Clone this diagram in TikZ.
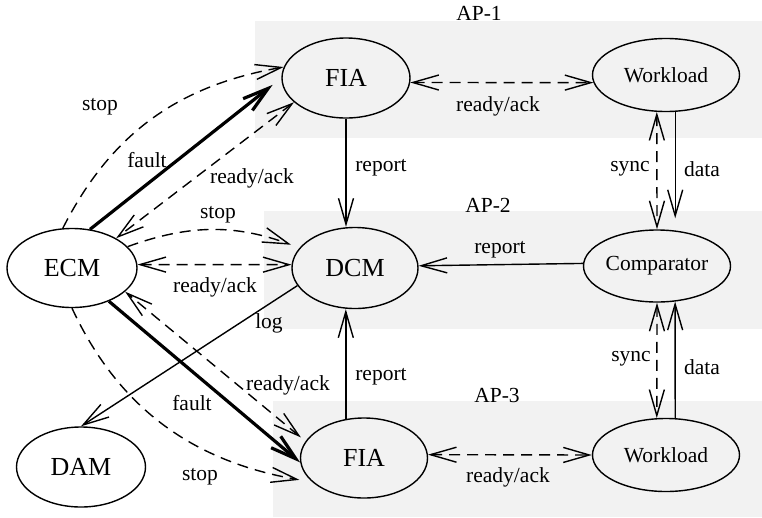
\documentclass[tikz,border=0pt]{standalone}
\usepackage{fontspec}
\setmainfont{Liberation Serif}
\newfontfamily\diagfont{Liberation Serif}
\usetikzlibrary{arrows.meta,shapes.geometric}
\definecolor{apgray}{HTML}{F2F2F2}

\tikzset{
  vtip/.tip={Straight Barb[length=26pt,width=15pt]},
  state/.style={draw, ellipse, line width=1.4pt, inner sep=0pt,
    font=\diagfont\fontsize{26}{30}\selectfont},
  smallstate/.style={state, font=\diagfont\fontsize{21.5}{25}\selectfont},
  lbl/.style={inner sep=0pt, font=\diagfont\fontsize{21.5}{25}\selectfont},
  flow/.style={line width=1.4pt, -{vtip}},
  dflow/.style={flow, dash pattern=on 11pt off 7pt},
  biflow/.style={line width=1.4pt, {vtip}-{vtip}, dash pattern=on 11pt off 7pt},
  fault/.style={line width=3.2pt, -{vtip}},
  apbox/.style={fill=apgray, draw=none},
}

\begin{document}
\begin{tikzpicture}[x=1pt,y=-1pt]
\useasboundingbox (0,0) rectangle (762,517);

% processor areas
\fill[apbox] (255,21) rectangle (762,138);
\fill[apbox] (264,211) rectangle (762,329);
\fill[apbox] (273,401) rectangle (762,517);
\node[lbl] (apA) at (479,13) {AP-1};
\node[lbl] (apB) at (488,205) {AP-2};
\node[lbl] (apC) at (497,395) {AP-3};

% components
\node[state, minimum width=128pt, minimum height=80pt] (fiaA) at (346,78) {FIA};
\node[smallstate, minimum width=147pt, minimum height=73pt] (wlA) at (666,75) {Workload};
\node[state, minimum width=130pt, minimum height=79pt] (ecm) at (72,268) {ECM};
\node[state, minimum width=126pt, minimum height=81pt] (dcm) at (355,268) {DCM};
\node[smallstate, minimum width=147pt, minimum height=72pt] (cmp) at (657,266) {Comparator};
\node[state, minimum width=129pt, minimum height=80pt] (dam) at (81,467) {DAM};
\node[state, minimum width=127pt, minimum height=80pt] (fiaC) at (364,458) {FIA};
\node[smallstate, minimum width=147pt, minimum height=73pt] (wlC) at (666,455) {Workload};

% ECM to upper FIA
\draw[dflow] (ecm.103) to[out=63,in=190] (fiaA.170);
\draw[fault, shorten >=11pt] (ecm.65) -- (fiaA.west);
\draw[biflow] (fiaA.205) -- (ecm.34);
\node[lbl] (stopA) at (100,107) {stop};
\node[lbl] (faultA) at (147,160) {fault};
\node[lbl] (rackA) at (252,178) {ready/ack};

% ECM to DCM
\draw[dflow, shorten >=9pt] (ecm.21) to[out=20,in=160] (dcm.160);
\draw[biflow] (ecm.3) -- (dcm.177);
\node[lbl] (stopB) at (218,215) {stop};
\node[lbl] (rackB) at (215,287) {ready/ack};

% DCM to DAM
\draw[flow] (dcm.197) -- (dam.north);
\node[lbl] (logl) at (269,323) {log};

% ECM to lower FIA
\draw[fault] (ecm.-42) -- (fiaC.184);
\draw[biflow, shorten <=6pt] (fiaC.164) -- (ecm.-24);
\draw[dflow, shorten >=13pt] (ecm.south) to[out=-65,in=170] (fiaC.205);
\node[lbl] (rackD) at (288,385) {ready/ack};
\node[lbl] (faultC) at (192,403) {fault};
\node[lbl] (stopC) at (200,477) {stop};

% reports to DCM
\draw[flow] (fiaA.south) -- (fiaA.south |- dcm.north);
\draw[flow] (fiaC.115) -- (fiaC.115 |- dcm.south);
\draw[flow] (cmp.178) -- (dcm.2);
\node[lbl] (reportA) at (381,168) {report};
\node[lbl] (reportC) at (381,377) {report};
\node[lbl] (reportB) at (500,250) {report};

% FIA and workload handshakes
\draw[biflow] (fiaA.-4.5) -- (wlA.186.4);
\draw[biflow] (fiaC.3) -- (wlC.west);
\node[lbl] (rackTop) at (498,106) {ready/ack};
\node[lbl] (rackBot) at (508,477) {ready/ack};

% workloads and comparator
\draw[biflow] (wlA.256) -- (cmp.north);
\draw[flow, shorten >=11pt] (wlA.284) -- (wlA.284 |- cmp.north);
\draw[biflow] (cmp.south) -- (wlC.104);
\draw[flow] (wlC.76) -- (cmp.-63);
\node[lbl] (syncA) at (630,169) {sync};
\node[lbl] (dataA) at (702,169) {data};
\node[lbl] (syncC) at (631,359) {sync};
\node[lbl] (dataC) at (702,367) {data};
\end{tikzpicture}
\end{document}
